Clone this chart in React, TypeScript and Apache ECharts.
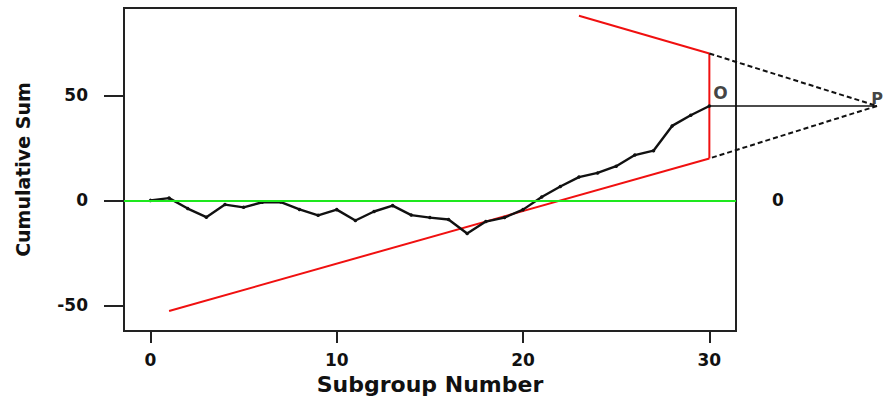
import React, { useEffect, useRef } from "react";
import * as echarts from "echarts";

// Subgroup numbers and cumulative sums
const subgroups = [0,1,2,3,4,5,6,7,8,9,10,11,12,13,14,15,16,17,18,19,20,21,22,23,24,25,26,27,28,29,30];
const cusum = [0, 1.1, -3.9, -8.0, -2.0, -3.3, -0.9, -0.8, -4.3, -7.1, -4.4, -9.6, -5.3, -2.5, -7.0, -8.2, -9.1, -15.8, -10.1, -8.2, -4.4, 1.6, 6.6, 11.1, 13.1, 16.3, 21.6, 23.7, 35.5, 40.6, 45.0];

// V-mask geometry (data units)
const maskRed = [[1, -52.7], [30, 20], [30, 70], [23, 88]];
const maskDashed = [[30, 70], [39, 45], [30, 20]];
const maskLead = [[30, 45], [39, 45]];
const pointLabels = ["O", "P"];
const centerValue = 0;

const xTicks = [0, 10, 20, 30];
const yTicks = [-50, 0, 50];

const FONT = "DejaVu Sans";

function toSegments(pts: number[][]) {
  const segs: number[][] = [];
  for (let i = 0; i < pts.length - 1; i++) segs.push([pts[i][0], pts[i][1], pts[i + 1][0], pts[i + 1][1]]);
  return segs;
}

function segmentSeries(pts: number[][], style: any) {
  return {
    type: "custom",
    coordinateSystem: "cartesian2d",
    clip: false,
    silent: true,
    encode: { x: [0, 2], y: [1, 3] },
    data: toSegments(pts),
    renderItem: (_params: any, api: any) => {
      const a = api.coord([api.value(0), api.value(1)]);
      const b = api.coord([api.value(2), api.value(3)]);
      return {
        type: "line",
        shape: { x1: a[0], y1: a[1], x2: b[0], y2: b[1] },
        style: { fill: null, ...style },
      };
    },
  };
}

export default function App() {
  const ref = useRef<HTMLDivElement>(null);
  useEffect(() => {
    document.body.style.margin = "0";
    const chart = echarts.init(ref.current!, null, { renderer: "svg" });
    const labelStyle = { fontFamily: FONT, fontSize: 17, fontWeight: "bold" as const, color: "#111" };
    chart.setOption({
      animation: false,
      grid: { left: 124, right: 149, top: 8, bottom: 67, show: true, borderColor: "#222", borderWidth: 2, backgroundColor: "transparent" },
      xAxis: {
        type: "value", min: -1.42, max: 31.43,
        name: "Subgroup Number", nameLocation: "middle", nameGap: 40,
        nameTextStyle: { fontFamily: FONT, fontSize: 22, fontWeight: "bold", color: "#111" },
        axisLine: { show: true, onZero: false, lineStyle: { color: "#222", width: 2 } },
        axisTick: { show: true, length: 12, lineStyle: { color: "#222", width: 2 }, customValues: xTicks },
        axisLabel: { ...labelStyle, margin: 20, customValues: xTicks },
        splitLine: { show: false },
      },
      yAxis: {
        type: "value", min: -62.3, max: 91.7,
        name: "Cumulative Sum", nameLocation: "middle", nameGap: 92,
        nameTextStyle: { fontFamily: FONT, fontSize: 19, fontWeight: "bold", color: "#111" },
        axisLine: { show: true, onZero: false, lineStyle: { color: "#222", width: 2 } },
        axisTick: { show: true, length: 20, lineStyle: { color: "#222", width: 2 }, customValues: yTicks },
        axisLabel: { ...labelStyle, margin: 36, customValues: yTicks },
        splitLine: { show: false },
      },
      series: [
        {
          type: "line", data: [],
          markLine: {
            silent: true, symbol: ["none", "none"],
            lineStyle: { color: "#1ee81e", width: 2, type: "solid" },
            label: { show: true, position: "end", distance: 36, formatter: String(centerValue), ...labelStyle },
            data: [{ yAxis: centerValue }],
          },
        },
        segmentSeries(maskRed, { stroke: "#f01010", lineWidth: 2 }),
        segmentSeries(maskDashed, { stroke: "#111", lineWidth: 2, lineDash: [5, 3] }),
        segmentSeries(maskLead, { stroke: "#111", lineWidth: 1.6 }),
        {
          type: "line", data: subgroups.map((s, i) => [s, cusum[i]]), clip: false,
          symbol: "circle", symbolSize: 3.5, itemStyle: { color: "#111" },
          lineStyle: { color: "#111", width: 2.4 },
        },
        {
          type: "scatter", clip: false, symbolSize: 0, silent: true,
          itemStyle: { color: "#111" },
          data: [
            { value: [subgroups[subgroups.length - 1], cusum[cusum.length - 1]], name: pointLabels[0], label: { offset: [11, -4] } },
            { value: maskLead[1], name: pointLabels[1], label: { offset: [0, 1], fontSize: 16 } },
          ],
          label: { show: true, position: "top", distance: 0, formatter: "{b}", ...labelStyle },
        },
      ],
    });
    return () => chart.dispose();
  }, []);
  return <div ref={ref} style={{ width: 885, height: 400 }} />;
}
